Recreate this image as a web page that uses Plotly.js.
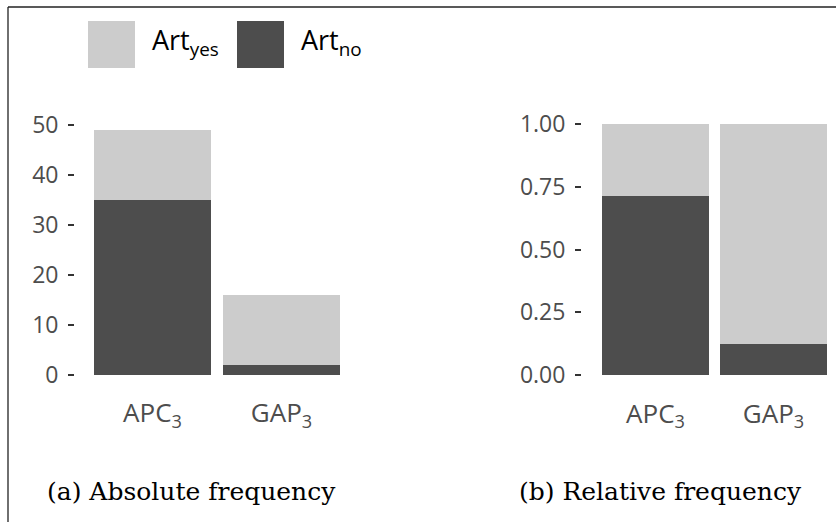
<!DOCTYPE html>
<html>
<head>
<meta charset="utf-8">
<script src="https://cdn.plot.ly/plotly-3.0.1.min.js"></script>
<style>html,body{margin:0;padding:0;background:#fff;}#chart{width:836px;height:522px;}</style>
</head>
<body>
<div id="chart"></div>
<script>
// ---- data ----
const categories = ['APC<sub>3</sub>', 'GAP<sub>3</sub>'];
const seriesNames = ['Art<sub>yes</sub>', 'Art<sub>no</sub>'];
const absNo = [35, 2];
const absYes = [14, 14];
const relNo = [0.714, 0.125];
const relYes = [0.286, 0.875];
const absTicks = [0, 10, 20, 30, 40, 50];
const relTicks = [0, 0.25, 0.5, 0.75, 1];
const relTickText = ['0.00', '0.25', '0.50', '0.75', '1.00'];
const captions = ['(a) Absolute frequency', '(b) Relative frequency'];

const W = 836, H = 522;
const px = x => x / W;
const py = y => 1 - y / H;
const LIGHT = '#cccccc', DARK = '#4d4d4d';
const SANS = 'Open Sans, Noto Sans, sans-serif';
const SERIF = 'DejaVu Serif, serif';

const traces = [
  {type: 'bar', name: seriesNames[1], x: categories, y: absNo, marker: {color: DARK}, xaxis: 'x', yaxis: 'y', hoverinfo: 'none'},
  {type: 'bar', name: seriesNames[0], x: categories, y: absYes, marker: {color: LIGHT}, xaxis: 'x', yaxis: 'y', hoverinfo: 'none'},
  {type: 'bar', name: seriesNames[1], x: categories, y: relNo, marker: {color: DARK}, xaxis: 'x2', yaxis: 'y2', hoverinfo: 'none'},
  {type: 'bar', name: seriesNames[0], x: categories, y: relYes, marker: {color: LIGHT}, xaxis: 'x2', yaxis: 'y2', hoverinfo: 'none'}
];

const yCommon = {
  showgrid: false, zeroline: false, showline: false,
  ticks: 'outside', ticklen: 6, tickwidth: 2, tickcolor: '#333333',
  tickfont: {family: SANS, size: 23, color: '#4d4d4d'},
  ticklabelstandoff: 5
};
const xCommon = {
  type: 'category', showgrid: false, zeroline: false, showline: false, ticks: '',
  tickfont: {family: SANS, size: 26, color: '#4d4d4d'},
  ticklabelstandoff: 8
};

const layout = {
  width: W, height: H,
  margin: {l: 0, r: 0, t: 0, b: 0},
  paper_bgcolor: '#ffffff', plot_bgcolor: '#ffffff',
  barmode: 'stack', bargap: 0.093,
  showlegend: false,
  xaxis: Object.assign({}, xCommon, {domain: [px(75.1), px(358.9)], range: [-0.6, 1.6], anchor: 'y'}),
  yaxis: Object.assign({}, yCommon, {domain: [py(387.25), py(117.75)], range: [-2.45, 51.45], tickvals: absTicks, anchor: 'x'}),
  xaxis2: Object.assign({}, xCommon, {domain: [px(582), 1], range: [-0.623, 1.53], anchor: 'y2'}),
  yaxis2: Object.assign({}, yCommon, {domain: [py(387.55), py(111.45)], range: [-0.05, 1.05], tickvals: relTicks, ticktext: relTickText, anchor: 'x2'}),
  shapes: [
    {type: 'line', xref: 'paper', yref: 'paper', x0: px(8), x1: px(8), y0: 0, y1: py(7), line: {color: '#222', width: 1.3}},
    {type: 'line', xref: 'paper', yref: 'paper', x0: px(8), x1: 1, y0: py(7), y1: py(7), line: {color: '#222', width: 1.3}},
    {type: 'rect', xref: 'paper', yref: 'paper', x0: px(88), x1: px(135), y0: py(68), y1: py(21), fillcolor: LIGHT, line: {width: 0}},
    {type: 'rect', xref: 'paper', yref: 'paper', x0: px(237), x1: px(284), y0: py(68), y1: py(21), fillcolor: DARK, line: {width: 0}}
  ],
  annotations: [
    {xref: 'paper', yref: 'paper', x: px(150), y: py(41), xanchor: 'left', yanchor: 'middle', showarrow: false, text: seriesNames[0], font: {family: SANS, size: 27, color: '#000'}},
    {xref: 'paper', yref: 'paper', x: px(299), y: py(41), xanchor: 'left', yanchor: 'middle', showarrow: false, text: seriesNames[1], font: {family: SANS, size: 27, color: '#000'}},
    {xref: 'paper', yref: 'paper', x: px(45), y: py(491), xanchor: 'left', yanchor: 'middle', showarrow: false, text: captions[0], font: {family: SERIF, size: 25, color: '#000'}},
    {xref: 'paper', yref: 'paper', x: px(517), y: py(491), xanchor: 'left', yanchor: 'middle', showarrow: false, text: captions[1], font: {family: SERIF, size: 25, color: '#000'}}
  ]
};

Plotly.newPlot('chart', traces, layout, {staticPlot: true, displayModeBar: false});
</script>
</body>
</html>
